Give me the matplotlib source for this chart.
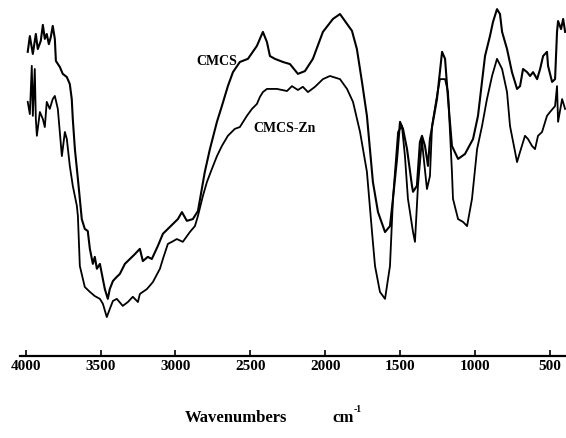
import matplotlib
matplotlib.use("Agg")
from matplotlib import pyplot as plt

# IR spectra: wavenumber (cm-1) and transmittance (arb.)
cmcs_w = [3987, 3973, 3953, 3933, 3920, 3900, 3886, 3873, 3860, 3846, 3833, 3820,
          3806, 3799, 3773, 3753, 3726, 3706, 3693, 3686, 3672, 3652, 3626, 3606,
          3586, 3572, 3552, 3539, 3525, 3505, 3492, 3472, 3452, 3439, 3418, 3392,
          3372, 3338, 3305, 3271, 3238, 3218, 3185, 3158, 3118, 3084, 3051, 3017,
          2984, 2957, 2924, 2884, 2850, 2824, 2804, 2770, 2723, 2690, 2650, 2616,
          2570, 2516, 2456, 2416, 2389, 2369, 2336, 2282, 2235, 2182, 2135, 2082,
          2015, 1948, 1901, 1854, 1821, 1788, 1754, 1721, 1701, 1681, 1647, 1600,
          1567, 1547, 1520, 1500, 1480, 1453, 1420, 1413, 1387, 1367, 1353, 1333,
          1313, 1300, 1253, 1219, 1199, 1179, 1153, 1112, 1066, 1012, 979, 952,
          932, 899, 879, 852, 832, 818, 785, 752, 718, 698, 678, 651, 631, 611,
          584, 564, 544, 518, 511, 484, 464, 451, 444, 424, 410, 397]
cmcs_t = [86.9, 91.4, 86.3, 92.0, 87.7, 90.0, 94.6, 90.6, 92.0, 89.1, 91.1, 94.3,
          90.6, 84.3, 82.6, 80.6, 79.7, 77.7, 73.4, 67.7, 59.1, 50.6, 39.1, 36.3,
          35.7, 30.6, 26.3, 28.3, 24.9, 26.3, 23.4, 19.1, 16.3, 19.1, 21.4, 22.6,
          23.4, 26.3, 27.7, 29.1, 30.6, 27.1, 28.3, 27.7, 31.4, 34.9, 36.3, 37.7,
          39.1, 41.1, 38.6, 39.1, 41.4, 47.7, 52.6, 59.1, 66.9, 71.4, 77.1, 81.1,
          84.0, 84.9, 88.6, 92.6, 89.7, 85.7, 84.9, 84.0, 83.4, 80.6, 81.4, 84.9,
          92.6, 96.3, 97.7, 94.9, 92.9, 87.7, 78.3, 68.6, 59.1, 49.7, 41.1, 35.4,
          37.1, 44.9, 56.3, 66.9, 64.9, 59.1, 48.6, 46.9, 48.6, 61.1, 62.9, 60.0,
          54.3, 62.0, 73.4, 86.9, 84.9, 73.4, 60.0, 56.3, 57.7, 62.0, 68.6, 78.3,
          85.7, 91.4, 95.4, 99.1, 97.7, 92.6, 87.7, 81.1, 76.3, 77.1, 82.0, 81.1,
          80.0, 81.1, 79.1, 82.0, 85.7, 86.9, 82.9, 78.3, 79.1, 92.6, 95.7, 93.4,
          96.3, 92.6]

zn_w = [3987, 3973, 3960, 3953, 3940, 3933, 3926, 3906, 3886, 3873, 3860, 3840,
        3820, 3806, 3786, 3773, 3759, 3739, 3726, 3706, 3686, 3659, 3652, 3639,
        3606, 3572, 3539, 3505, 3485, 3459, 3439, 3418, 3392, 3352, 3318, 3285,
        3251, 3238, 3191, 3151, 3104, 3084, 3051, 3024, 2991, 2951, 2904, 2870,
        2850, 2817, 2790, 2757, 2723, 2690, 2650, 2603, 2570, 2523, 2489, 2456,
        2436, 2416, 2389, 2322, 2255, 2222, 2182, 2149, 2115, 2068, 2015, 1968,
        1901, 1854, 1814, 1767, 1721, 1687, 1667, 1634, 1600, 1567, 1547, 1513,
        1487, 1467, 1447, 1413, 1400, 1380, 1353, 1346, 1320, 1300, 1286, 1253,
        1233, 1199, 1179, 1166, 1153, 1146, 1112, 1079, 1052, 1019, 985, 952,
        919, 885, 852, 818, 785, 765, 731, 718, 698, 665, 645, 618, 598, 578,
        551, 518, 498, 464, 451, 444, 417, 397]
zn_t = [72.6, 69.1, 82.9, 68.6, 82.0, 67.7, 62.9, 69.7, 67.7, 65.4, 72.6, 70.6,
        73.4, 74.3, 70.6, 64.0, 57.1, 64.0, 62.0, 54.3, 48.6, 42.9, 40.0, 25.7,
        19.7, 18.3, 17.1, 16.3, 14.9, 11.1, 13.4, 15.7, 16.3, 14.3, 15.4, 16.9,
        15.4, 17.7, 19.1, 21.1, 24.9, 27.7, 32.0, 32.6, 33.4, 32.6, 35.4, 37.1,
        40.0, 45.7, 49.7, 53.4, 57.1, 60.0, 62.9, 64.9, 65.4, 68.6, 70.6, 72.0,
        74.0, 75.4, 76.3, 76.3, 75.7, 77.1, 76.0, 76.9, 75.4, 76.9, 79.1, 80.0,
        79.1, 76.3, 72.6, 64.0, 52.6, 35.4, 25.7, 18.3, 16.3, 25.7, 44.9, 64.0,
        65.7, 57.1, 44.9, 35.4, 32.6, 48.6, 62.0, 58.3, 47.7, 51.4, 65.7, 74.3,
        79.1, 79.1, 75.4, 64.0, 52.6, 44.9, 39.1, 38.3, 37.1, 44.9, 59.1, 65.7,
        73.4, 80.0, 84.9, 82.0, 75.4, 65.7, 58.3, 55.4, 58.3, 62.9, 62.0, 60.0,
        59.1, 62.9, 64.0, 68.6, 69.7, 71.4, 77.1, 66.9, 73.4, 70.6]

ticks = [4000, 3500, 3000, 2500, 2000, 1500, 1000, 500]

serif = ['Liberation Serif', 'DejaVu Serif']

fig = plt.figure(figsize=(5.66, 4.39), dpi=100)
ax = fig.add_axes([0.035, 0.187, 0.965, 0.813])

ax.plot(cmcs_w, cmcs_t, color='black', lw=1.5)
ax.plot(zn_w, zn_t, color='black', lw=1.3)

ax.text(2723, 84.3, 'CMCS', ha='center', va='center', family=serif,
        fontweight='bold', fontsize=10)
ax.text(2269, 65.4, 'CMCS-Zn', ha='center', va='center', family=serif,
        fontweight='bold', fontsize=10)

ax.set_xlim(4040, 391)
ax.set_ylim(0, 102)
ax.set_xticks(ticks)
ax.set_xticklabels([str(t) for t in ticks], family=serif, fontweight='bold',
                   fontsize=11)
ax.set_yticks([])
ax.spines['left'].set_visible(False)
ax.spines['right'].set_visible(False)
ax.spines['top'].set_visible(False)
ax.spines['bottom'].set_linewidth(1.6)
ax.tick_params(axis='x', direction='in', length=4, width=1.2, pad=2)

fig.text(0.327, 0.048, 'Wavenumbers', family=serif, fontweight='bold',
         fontsize=12, ha='left', va='center')
fig.text(0.587, 0.048, 'cm', family=serif, fontweight='bold',
         fontsize=12, ha='left', va='center')
fig.text(0.625, 0.068, '-1', family=serif, fontweight='bold',
         fontsize=7, ha='left', va='center')

fig.savefig('out.png', dpi=100)
